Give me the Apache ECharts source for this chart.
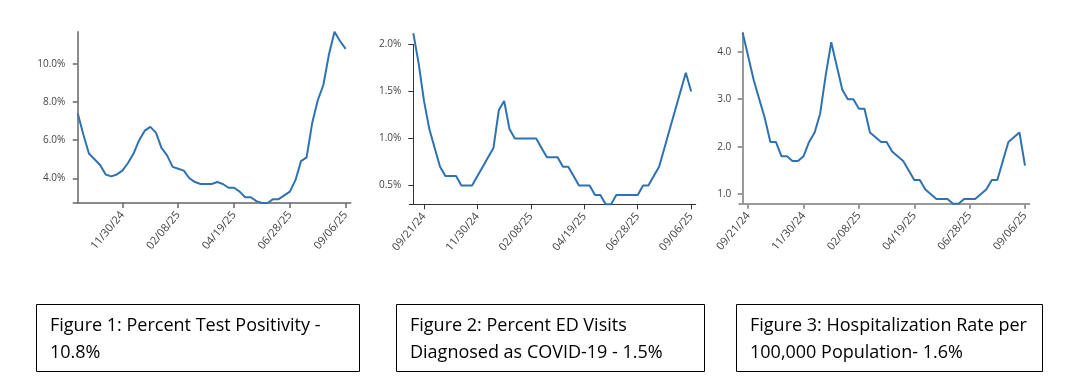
<!DOCTYPE html>
<html>
<head>
<meta charset="utf-8">
<script src="https://cdn.jsdelivr.net/npm/echarts@6/dist/echarts.min.js"></script>
<style>
html,body{margin:0;padding:0;background:#fff;}
#chart{width:1074px;height:387px;}
</style>
</head>
<body>
<div id="chart"></div>
<script>
// ---------- DATA ----------
const start1 = '2024-10-05';
const start2 = '2024-09-07';
const start3 = '2024-09-14';

const positivity = [7.4,6.3,5.3,5.0,4.7,4.2,4.1,4.2,4.4,4.8,5.3,6.0,6.5,6.7,6.4,5.6,5.2,4.6,4.5,4.4,4.0,3.8,3.7,3.7,3.7,3.8,3.7,3.5,3.5,3.3,3.0,3.0,2.8,2.7,2.7,2.9,2.9,3.1,3.3,3.9,4.9,5.1,6.9,8.1,8.9,10.5,11.7,11.2,10.8];
const edVisits = [2.12,1.8,1.4,1.1,0.9,0.7,0.6,0.6,0.6,0.5,0.5,0.5,0.6,0.7,0.8,0.9,1.3,1.4,1.1,1.0,1.0,1.0,1.0,1.0,0.9,0.8,0.8,0.8,0.7,0.7,0.6,0.5,0.5,0.5,0.4,0.4,0.3,0.3,0.4,0.4,0.4,0.4,0.4,0.5,0.5,0.6,0.7,0.9,1.1,1.3,1.5,1.7,1.5];
const hospRate = [4.4,3.9,3.4,3.0,2.6,2.1,2.1,1.8,1.8,1.7,1.7,1.8,2.1,2.3,2.7,3.5,4.2,3.7,3.2,3.0,3.0,2.8,2.8,2.3,2.2,2.1,2.1,1.9,1.8,1.7,1.5,1.3,1.3,1.1,1.0,0.9,0.9,0.9,0.8,0.8,0.9,0.9,0.9,1.0,1.1,1.3,1.3,1.7,2.1,2.2,2.3,1.6];

const xTicks1 = ['11/30/24','02/08/25','04/19/25','06/28/25','09/06/25'];
const xTicks2 = ['09/21/24','11/30/24','02/08/25','04/19/25','06/28/25','09/06/25'];
const xTicks3 = ['09/21/24','11/30/24','02/08/25','04/19/25','06/28/25','09/06/25'];
const yTicks1 = [4,6,8,10];
const yTicks2 = [0.5,1.0,1.5,2.0];
const yTicks3 = [1,2,3,4];

const captions = [
  ['Figure 1: Percent Test Positivity -','10.8%'],
  ['Figure 2: Percent ED Visits','Diagnosed as COVID-19 - 1.5%'],
  ['Figure 3: Hospitalization Rate per','100,000 Population- 1.6%']
];

// ---------- helpers ----------
function weekLabels(startIso, n){
  const out=[]; const d=new Date(startIso+'T12:00:00Z');
  for(let i=0;i<n;i++){
    const t=new Date(d.getTime()+i*7*86400000);
    const mm=String(t.getUTCMonth()+1).padStart(2,'0');
    const dd=String(t.getUTCDate()).padStart(2,'0');
    const yy=String(t.getUTCFullYear()).slice(2);
    out.push(mm+'/'+dd+'/'+yy);
  }
  return out;
}
const dates1 = weekLabels(start1, positivity.length);
const dates2 = weekLabels(start2, edVisits.length);
const dates3 = weekLabels(start3, hospRate.length);

const LINE = '#2f72b3';
const LABEL = '#444';
const FONT = 'Open Sans';

function xAxis(idx, dates, ticks, min, max, axisColor, axisWidth){
  const cv = ticks.map(t=>dates.indexOf(t));
  return {
    type:'value', gridIndex:idx, min:min, max:max,
    splitLine:{show:false},
    axisLine:{show:true,lineStyle:{color:axisColor,width:axisWidth}},
    axisTick:{show:true,length:5,customValues:cv,lineStyle:{color:axisColor,width:axisWidth}},
    axisLabel:{customValues:cv,rotate:50,margin:10,color:LABEL,fontFamily:FONT,fontSize:11,
      formatter:v=>dates[Math.round(v)]||''}
  };
}
function yAxis(idx, ticks, min, max, fmt, axisColor, axisWidth){
  return {
    type:'value', gridIndex:idx, min:min, max:max,
    splitLine:{show:false},
    axisLine:{show:true,lineStyle:{color:axisColor,width:axisWidth}},
    axisTick:{show:true,length:5,customValues:ticks,lineStyle:{color:axisColor,width:axisWidth}},
    axisLabel:{customValues:ticks,margin:8,color:LABEL,fontFamily:FONT,fontSize:10,formatter:fmt}
  };
}
function series(idx, vals){
  return {
    type:'line', xAxisIndex:idx, yAxisIndex:idx, symbol:'none', clip:false,
    lineStyle:{color:LINE,width:2}, data: vals.map((v,i)=>[i,v]), animation:false
  };
}

const boxes = [
  {x:36,y:304,w:323,h:67,tx:50},
  {x:396,y:304,w:308,h:67,tx:410},
  {x:736,y:304,w:306,h:67,tx:750}
];
const graphic=[];
boxes.forEach((b,i)=>{
  graphic.push({type:'rect',shape:{x:b.x+0.5,y:b.y+0.5,width:b.w,height:b.h},
    style:{fill:'#fff',stroke:'#000',lineWidth:1}});
  captions[i].forEach((line,j)=>{
    graphic.push({type:'text',x:b.tx,y:317+j*27,
      style:{text:line,fill:'#000',font:'18px "Open Sans"',verticalAlign:'top'}});
  });
});

const chart = echarts.init(document.getElementById('chart'),null,{renderer:'canvas'});
chart.setOption({
  animation:false,
  backgroundColor:'#fff',
  grid:[
    {left:73.3,top:31.7,width:277.4,height:171.3,containLabel:false,outerBoundsMode:'none'},
    {left:409.3,top:44.5,width:286.4,height:159.8,containLabel:false,outerBoundsMode:'none'},
    {left:739.3,top:32.7,width:290,height:171,containLabel:false,outerBoundsMode:'none'}
  ],
  xAxis:[
    xAxis(0,dates1,xTicks1,-0.8,48.9,'#666',1.5),
    xAxis(1,dates2,xTicks2,-0.75,52.85,'#333',1),
    xAxis(2,dates3,xTicks3,-0.61,51.78,'#999',2)
  ],
  yAxis:[
    yAxis(0,yTicks1,2.7,11.7,v=>v.toFixed(1)+'%','#666',1.5),
    yAxis(1,yTicks2,0.3,2.0,v=>v.toFixed(1)+'%','#333',1),
    yAxis(2,yTicks3,0.8,4.4,v=>v.toFixed(1),'#999',2)
  ],
  series:[series(0,positivity),series(1,edVisits),series(2,hospRate)],
  graphic:graphic
});
</script>
</body>
</html>
